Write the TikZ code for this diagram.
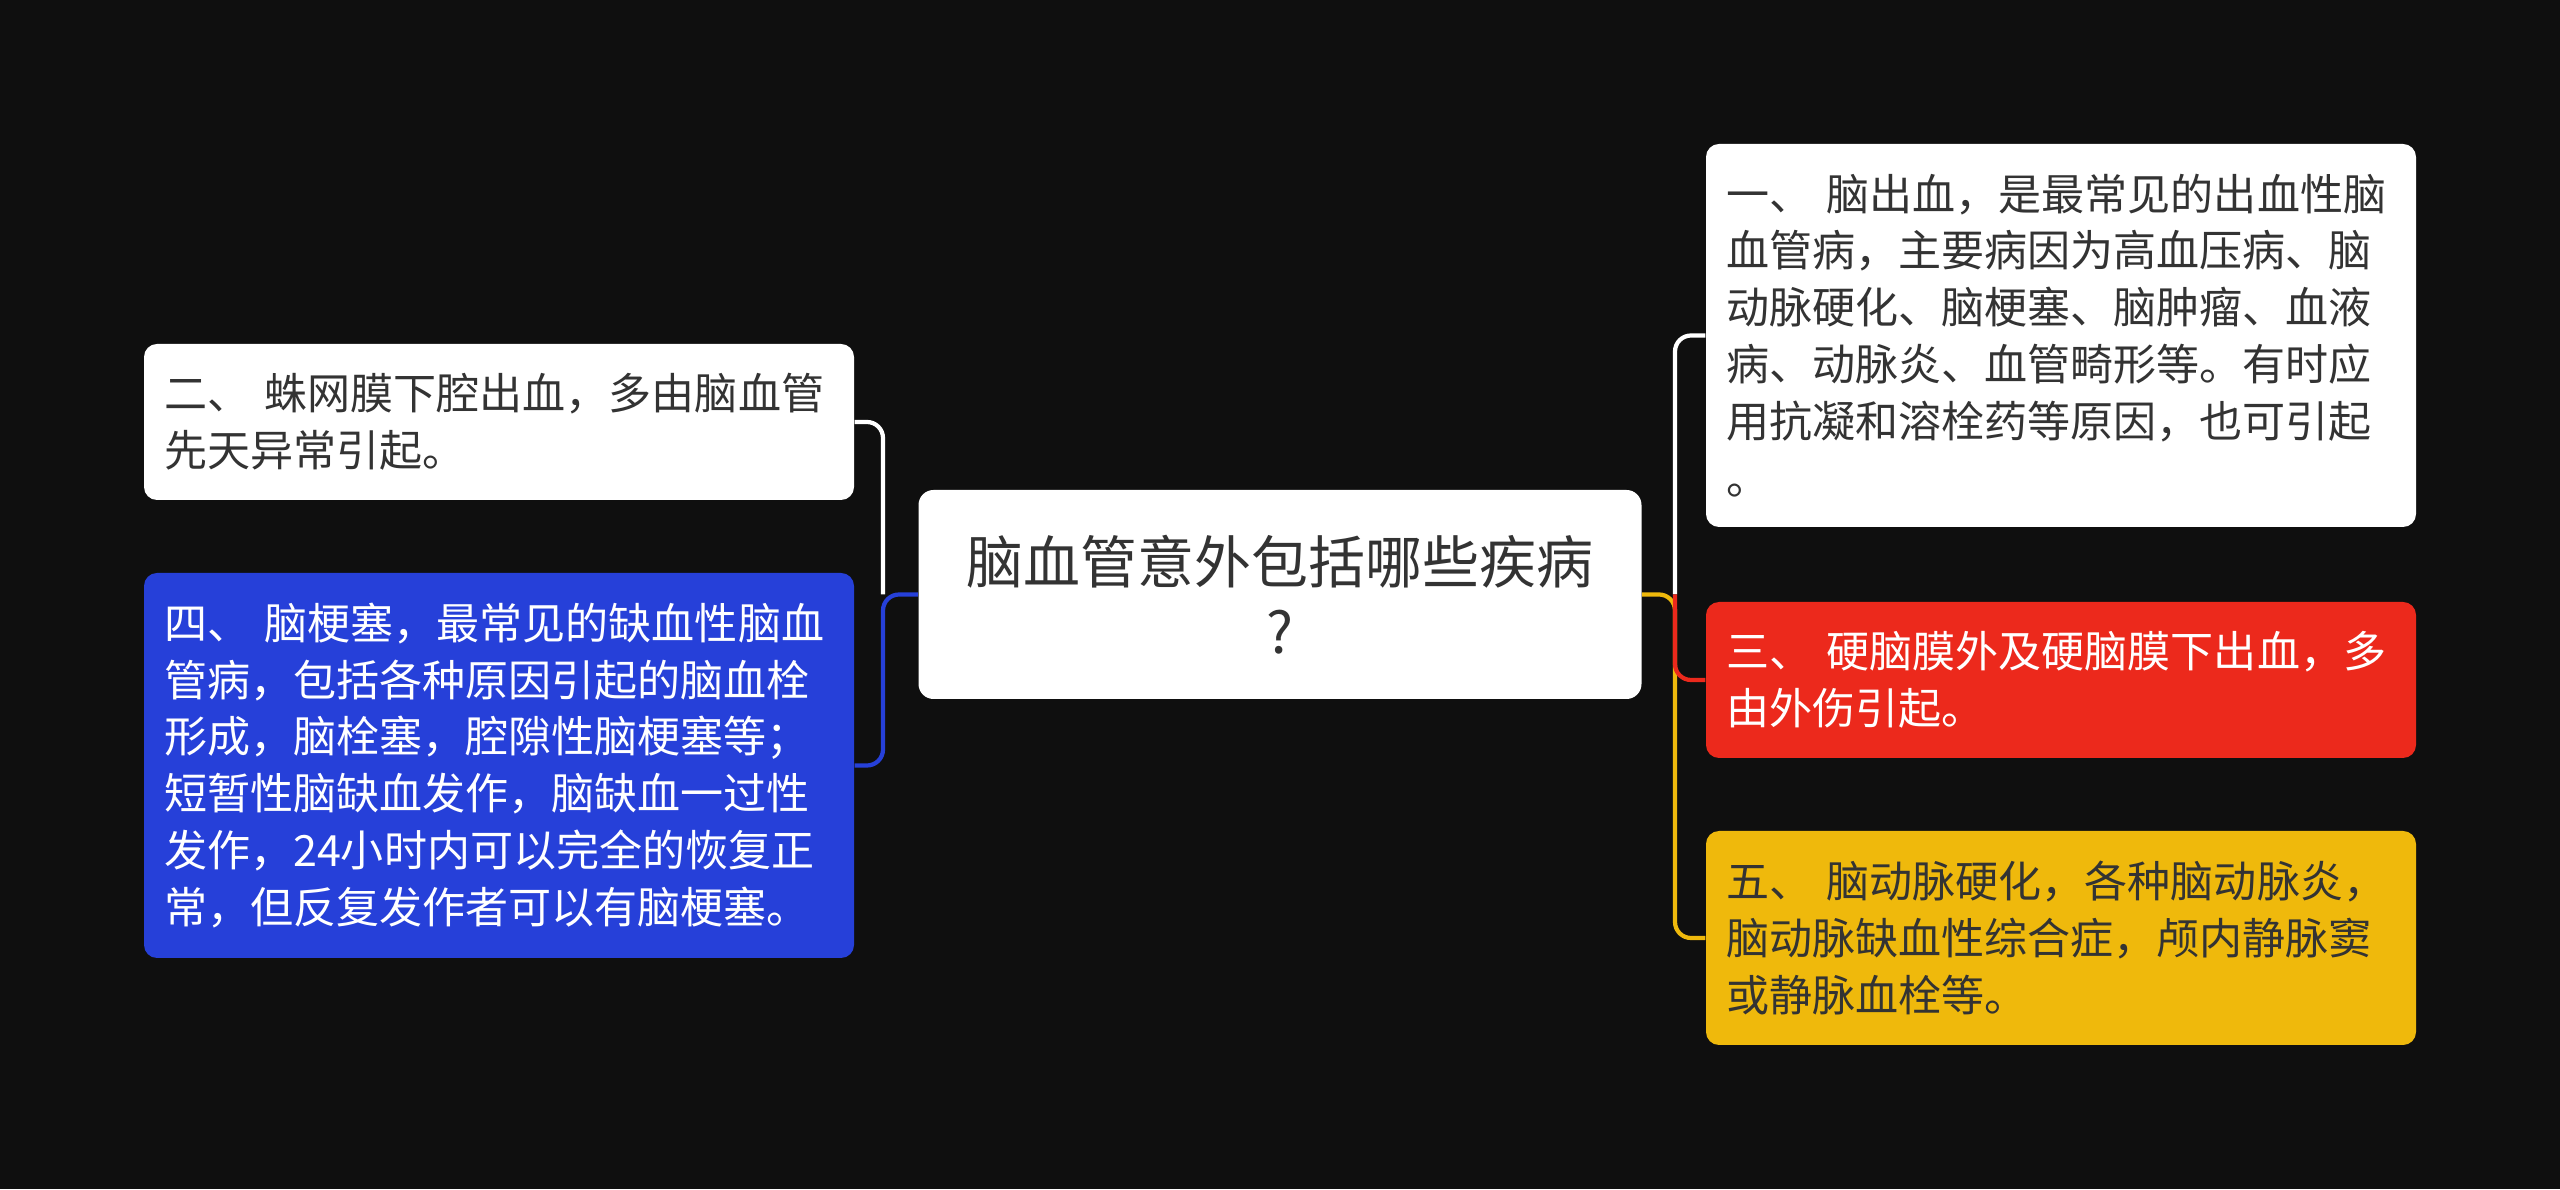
\documentclass[tikz,border=0pt]{standalone}
\usepackage{fontspec}
\setmainfont{Noto Sans CJK SC}
\usepackage{xcolor}
\definecolor{bgdark}{HTML}{0F0F0F}
\definecolor{leafblue}{HTML}{2640D9}
\definecolor{leafred}{HTML}{EC291C}
\definecolor{leafyellow}{HTML}{EFB90C}
\definecolor{inkdark}{HTML}{333333}

\begin{document}
\begin{tikzpicture}[
    topic/.style={rectangle,rounded corners=0.15cm,fill=white,text=inkdark,minimum width=7.23cm,minimum height=2.09cm,text width=6.8cm,align=center,font=\fontsize{16.2}{20}\selectfont},
    leaf/.style={rectangle,rounded corners=0.13cm,minimum width=7.1cm,text width=6.7cm,inner xsep=0.2cm,align=left,font=\fontsize{12.25}{16.2}\selectfont},
    branch/.style={line width=1.2pt,rounded corners=0.16cm}
]

% Background
\fill[bgdark] (0,0) rectangle (25.6,11.89);
\useasboundingbox (0,0) rectangle (25.6,11.89);

% Center node
\node[topic] (main) at (12.8,5.945) {脑血管意外包括哪些疾病\\?};

% Left side
\node[leaf,fill=white,text=inkdark,minimum height=1.56cm] (sub2) at (4.99,7.67) {二、 蛛网膜下腔出血，多由脑血管\\先天异常引起。};
\node[leaf,fill=leafblue,text=white,minimum height=3.85cm] (sub4) at (4.99,4.235) {四、 脑梗塞，最常见的缺血性脑血\\管病，包括各种原因引起的脑血栓\\形成，脑栓塞，腔隙性脑梗塞等；\\短暂性脑缺血发作，脑缺血一过性\\发作，24小时内可以完全的恢复正\\常，但反复发作者可以有脑梗塞。};

% Right side
\node[leaf,fill=white,text=inkdark,minimum height=3.83cm] (sub1) at (20.61,8.535) {一、 脑出血，是最常见的出血性脑\\血管病，主要病因为高血压病、脑\\动脉硬化、脑梗塞、脑肿瘤、血液\\病、动脉炎、血管畸形等。有时应\\用抗凝和溶栓药等原因，也可引起\\。};
\node[leaf,fill=leafred,text=white,minimum height=1.56cm] (sub3) at (20.61,5.09) {三、 硬脑膜外及硬脑膜下出血，多\\由外伤引起。};
\node[leaf,fill=leafyellow,text=inkdark,minimum height=2.14cm] (sub5) at (20.61,2.51) {五、 脑动脉硬化，各种脑动脉炎，\\脑动脉缺血性综合症，颅内静脉窦\\或静脉血栓等。};

% Branches
\coordinate (ljoin) at (8.83,5.945);
\coordinate (rjoin) at (16.75,5.945);
\draw[branch,white] (ljoin) |- (sub2.east);
\draw[branch,leafblue] (main.west) -- (ljoin) |- (sub4.east);
\draw[branch,white] (rjoin) |- (sub1.west);
\draw[branch,leafyellow] (main.east) -- (rjoin) |- (sub5.west);
\draw[branch,leafred] (rjoin) |- (sub3.west);

\end{tikzpicture}
\end{document}
